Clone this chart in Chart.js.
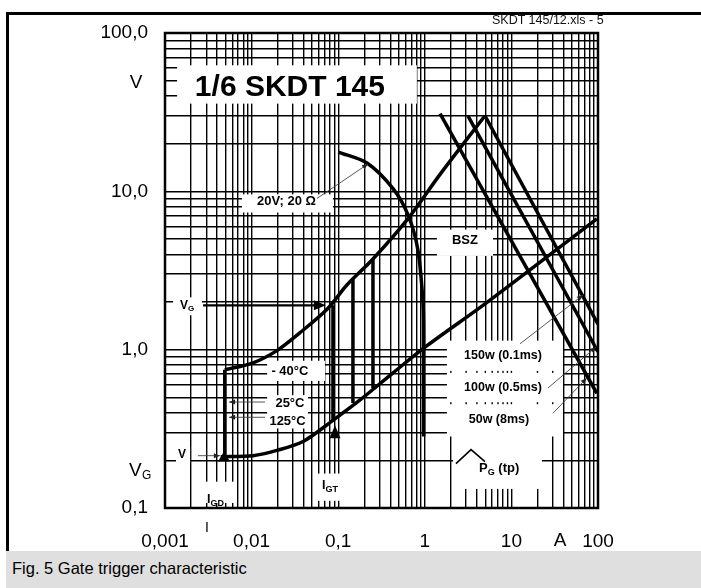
<!DOCTYPE html>
<html>
<head>
<meta charset="utf-8">
<script src="https://cdn.jsdelivr.net/npm/chart.js@4.4.1/dist/chart.umd.min.js"></script>
<style>
  html, body { margin: 0; padding: 0; background: #fff; }
  #wrap { position: relative; width: 701px; height: 588px; overflow: hidden;
          font-family: "Liberation Sans", Arial, Helvetica, sans-serif; }
  #chart { position: absolute; left: 0; top: 0; }
  #topline { position: absolute; left: 7px; top: 12px; width: 694px; height: 3px; background: #000; }
  #leftline { position: absolute; left: 6px; top: 12px; width: 3px; height: 540px; background: #000; }
  #fileref { position: absolute; left: 492px; top: 14px; font-size: 12.5px; line-height: 13px; color: #111; }
  #caption { position: absolute; left: 6px; top: 551px; width: 695px; height: 37px; background: #dfdfdf;
             font-size: 16.5px; line-height: 35px; padding-left: 6px; box-sizing: border-box; color: #000; }
</style>
</head>
<body>
<div id="wrap">
  <canvas id="chart" width="701" height="588"></canvas>
  <div id="topline"></div>
  <div id="leftline"></div>
  <div id="fileref">SKDT 145/12.xls - 5</div>
  <div id="caption">Fig. 5 Gate trigger characteristic</div>
</div>
<script>
// axis decades and their labels
const xDecades = [0.001, 0.01, 0.1, 1, 10, 100];
const xDecadeLabels = ['0,001', '0,01', '0,1', '1', '10', '100'];
const yDecades = [0.1, 1, 10, 100];
const yDecadeLabels = ['0,1', '1,0', '10,0', '100,0'];

// upper limit of the gate characteristic (I in A, V in V)
const upperI = [0.0049, 0.0104, 0.0196, 0.0362, 0.0743, 0.126, 0.252, 0.64, 1.5, 4.95];
const upperV = [0.746, 0.826, 0.986, 1.28, 1.80, 2.56, 3.74, 6.73, 12.8, 30];
// lower limit
const lowerI = [0.0044, 0.0104, 0.0196, 0.0393, 0.0871, 0.179, 0.43, 1.06, 5.23, 97];
const lowerV = [0.211, 0.214, 0.231, 0.263, 0.358, 0.481, 0.714, 1.06, 1.99, 6.7];
// 20V; 20 Ohm load curve
const loadI = [0.1, 0.215, 0.43, 0.64, 0.83, 0.953, 0.97, 0.97];
const loadV = [17.7, 15.1, 10.4, 7.1, 4.3, 2.0, 1.29, 0.283];
// I_GD line
const igdI = [0.0049, 0.0049];
const igdV = [0.746, 0.211];
// I_GT lines for -40 / 25 / 125 degC
const igtI = [0.087, 0.148, 0.252];
const igtTopV = [1.905, 2.79, 3.74];
const igtBottomV = [0.358, 0.46, 0.57];
// peak gate power lines 50w / 100w / 150w
const powerLabels = ['50w (8ms)', '100w (0.5ms)', '150w (0.1ms)'];
const powerStartI = [1.5, 3.15, 4.95];
const powerStartV = [31, 30, 30];
const powerEndI = [97, 100, 100];
const powerEndV = [0.53, 0.97, 1.45];

const FONT = '"Liberation Sans", Arial, Helvetica, sans-serif';

function logGrid(fromExp, toExp) {
  const out = [];
  for (let e = fromExp; e < toExp; e++)
    for (let m = 1; m <= 9; m++) out.push(Number((m * Math.pow(10, e)).toPrecision(6)));
  out.push(Math.pow(10, toExp));
  return out;
}

function pickLabel(v, values, labels) {
  const i = values.findIndex(d => Math.abs(v / d - 1) < 1e-6);
  return i < 0 ? '' : labels[i];
}

function curve(xs, vs, tension) {
  return {
    data: xs.map((x, i) => ({ x, y: vs[i] })),
    showLine: true, borderColor: '#000', borderWidth: 3.5,
    pointRadius: 0, tension: tension, fill: false
  };
}

const datasets = [
  curve(upperI, upperV, 0.3),
  curve(lowerI, lowerV, 0.3),
  curve(loadI, loadV, 0.3),
  curve(igdI, igdV, 0),
  ...igtI.map((x, i) => curve([x, x], [igtTopV[i], igtBottomV[i]], 0)),
  ...powerStartI.map((x, i) => curve([x, powerEndI[i]], [powerStartV[i], powerEndV[i]], 0))
];

// white label boxes [x0, v0, x1, v1] in data units
const boxes = [
  [0.00138, 62.5, 0.81, 35.8],
  [0.00774, 9.57, 0.087, 7.35],
  [1.38, 5.73, 6.13, 3.91],
  [0.00124, 2.14, 0.00267, 1.65],
  [0.0151, 0.851, 0.0704, 0.635],
  [0.0151, 0.516, 0.0448, 0.318],
  [0.00134, 0.245, 0.00195, 0.1906],
  [0.00275, 0.1466, 0.00627, 0.1076],
  [0.0569, 0.165, 0.1135, 0.111],
  [1.80, 1.14, 39.4, 0.283],
  [2.12, 0.292, 22.5, 0.132]
];

// thin leader lines with arrow at the end
const leaders = [
  [[0.0569, 9.02], [0.221, 14.9]],
  [[12.6, 1.09], [67.1, 2.21]],
  [[26.5, 0.573], [95, 1.04]],
  [[30.2, 0.397], [74, 0.66]],
  [[0.0143, 0.467], [0.0055, 0.467]],
  [[0.0143, 0.374], [0.0055, 0.374]],
  [[0.0024, 0.214], [0.0043, 0.214]]
];

function arrowHead(ctx, a, b, len, half) {
  const ang = Math.atan2(b[1] - a[1], b[0] - a[0]);
  const c = Math.cos(ang), s = Math.sin(ang);
  ctx.beginPath();
  ctx.moveTo(b[0], b[1]);
  ctx.lineTo(b[0] - len * c + half * s, b[1] - len * s - half * c);
  ctx.lineTo(b[0] - len * c - half * s, b[1] - len * s + half * c);
  ctx.closePath();
  ctx.fill();
}

function subText(ctx, main, sub, x, y, size, align) {
  ctx.font = 'bold ' + size + 'px ' + FONT;
  const w1 = ctx.measureText(main).width;
  ctx.font = 'bold ' + Math.round(size * 0.68) + 'px ' + FONT;
  const w2 = ctx.measureText(sub).width;
  let x0 = align === 'center' ? x - (w1 + w2) / 2 : x;
  ctx.textAlign = 'left';
  ctx.font = 'bold ' + size + 'px ' + FONT;
  ctx.fillText(main, x0, y);
  ctx.font = 'bold ' + Math.round(size * 0.68) + 'px ' + FONT;
  ctx.fillText(sub, x0 + w1, y + size * 0.3);
  return w1 + w2;
}

const annotations = {
  id: 'annotations',
  beforeDatasetsDraw(chart) {
    const { ctx, scales: { x, y } } = chart;
    ctx.save();
    ctx.fillStyle = '#fff';
    boxes.forEach(b => {
      const x0 = x.getPixelForValue(b[0]), y0 = y.getPixelForValue(b[1]);
      const x1 = x.getPixelForValue(b[2]), y1 = y.getPixelForValue(b[3]);
      ctx.fillRect(x0, y0, x1 - x0, y1 - y0);
    });
    // little grid stubs left between the power labels
    ctx.fillStyle = '#000';
    logGrid(0, 2).filter(v => v >= 2 && v <= 30).forEach(v => {
      [0.724, 0.459].forEach(row => {
        ctx.fillRect(x.getPixelForValue(v) - 0.7, y.getPixelForValue(row) - 1, 1.4, 2);
      });
    });
    ctx.restore();
  },
  afterDatasetsDraw(chart) {
    const { ctx, chartArea, scales: { x, y } } = chart;
    const p = (a, v) => [x.getPixelForValue(a), y.getPixelForValue(v)];
    ctx.save();

    // leader lines
    ctx.strokeStyle = '#444';
    ctx.fillStyle = '#222';
    ctx.lineWidth = 0.9;
    leaders.forEach(l => {
      const a = p(l[0][0], l[0][1]), b = p(l[1][0], l[1][1]);
      ctx.beginPath(); ctx.moveTo(a[0], a[1]); ctx.lineTo(b[0], b[1]); ctx.stroke();
      arrowHead(ctx, a, b, 6, 2.5);
    });

    // V_G arrow
    ctx.fillStyle = '#000';
    ctx.strokeStyle = '#000';
    ctx.lineWidth = 2.4;
    const g0 = p(0.00275, 1.905), g1 = p(0.072, 1.905);
    ctx.beginPath(); ctx.moveTo(g0[0], g0[1]); ctx.lineTo(g1[0] - 8, g1[1]); ctx.stroke();
    arrowHead(ctx, g0, g1, 12, 5);

    // I_GD and I_GT up arrows
    const up1 = p(0.0048, 0.2275);
    arrowHead(ctx, [up1[0], up1[1] + 20], up1, 10, 6);
    const up2 = p(0.0918, 0.333);
    arrowHead(ctx, [up2[0], up2[1] + 20], up2, 13, 5.5);

    // P_G pulse symbol
    ctx.lineWidth = 1.6;
    const q = [p(2.29, 0.1906), p(3.42, 0.234), p(4.95, 0.196)];
    ctx.beginPath(); ctx.moveTo(q[0][0], q[0][1]); ctx.lineTo(q[1][0], q[1][1]); ctx.lineTo(q[2][0], q[2][1]); ctx.stroke();

    // labels
    ctx.fillStyle = '#000';
    ctx.textBaseline = 'middle';
    ctx.textAlign = 'center';
    let t = p(0.0277, 45.3);
    ctx.font = 'bold 30px ' + FONT;
    ctx.fillText('1/6 SKDT 145', t[0], t[1]);
    ctx.font = 'bold 13px ' + FONT;
    t = p(0.0253, 8.6); ctx.fillText('20V; 20 \u03A9', t[0], t[1]);
    t = p(2.91, 4.9); ctx.fillText('BSZ', t[0], t[1]);
    t = p(0.0277, 0.724); ctx.fillText('- 40\u00B0C', t[0], t[1]);
    t = p(0.0277, 0.459); ctx.fillText('25\u00B0C', t[0], t[1]);
    t = p(0.026, 0.353); ctx.fillText('125\u00B0C', t[0], t[1]);
    ctx.font = 'bold 12.5px ' + FONT;
    t = p(8.0, 0.916); ctx.fillText(powerLabels[2], t[0], t[1]);
    t = p(8.0, 0.573); ctx.fillText(powerLabels[1], t[0], t[1]);
    t = p(7.19, 0.364); ctx.fillText(powerLabels[0], t[0], t[1]);
    ctx.font = 'bold 12px ' + FONT;
    t = p(0.00157, 0.218); ctx.fillText('V', t[0], t[1]);

    t = p(0.0018, 1.905); subText(ctx, 'V', 'G', t[0], t[1], 12, 'center');
    t = p(0.00305, 0.1125); subText(ctx, 'I', 'GD', t[0], t[1], 12.5, 'left');
    t = p(0.065, 0.138); subText(ctx, 'I', 'GT', t[0], t[1], 12.5, 'left');
    t = p(4.23, 0.177);
    const w = subText(ctx, 'P', 'G', t[0], t[1], 13, 'left');
    ctx.font = 'bold 13px ' + FONT; ctx.textAlign = 'left';
    ctx.fillText(' (tp)', t[0] + w, t[1]);

    // axis unit labels
    ctx.font = '19px ' + FONT;
    ctx.textAlign = 'center';
    t = p(0.001, 48.7); ctx.fillText('V', 136, t[1]);
    t = p(36.4, 0.1); ctx.fillText('A', t[0], 541);
    ctx.font = '14px ' + FONT;
    t = p(0.00305, 0.1); ctx.fillText('I', t[0], 528);
    ctx.font = '19px ' + FONT;
    ctx.textAlign = 'left';
    t = p(0.001, 0.172);
    ctx.fillText('V', 129, t[1]);
    ctx.font = '12px ' + FONT;
    ctx.fillText('G', 142, t[1] + 5);

    // plot frame
    ctx.lineWidth = 2.5;
    ctx.strokeRect(chartArea.left, chartArea.top, chartArea.right - chartArea.left, chartArea.bottom - chartArea.top);
    ctx.restore();
  }
};

new Chart(document.getElementById('chart'), {
  type: 'scatter',
  data: { datasets },
  options: {
    responsive: false,
    animation: false,
    layout: { autoPadding: false, padding: { left: 0, right: 103, top: 33, bottom: 0 } },
    plugins: { legend: { display: false }, tooltip: { enabled: false } },
    scales: {
      x: {
        type: 'logarithmic', min: 0.001, max: 100, position: 'bottom',
        afterBuildTicks: s => { s.ticks = logGrid(-3, 2).map(v => ({ value: v })); },
        afterFit: s => { s.height = 80; },
        grid: { color: '#000', lineWidth: 1.4, drawTicks: false },
        border: { display: false },
        ticks: {
          autoSkip: false, maxRotation: 0, padding: 22, color: '#000',
          font: { family: FONT, size: 19 },
          callback: v => pickLabel(v, xDecades, xDecadeLabels)
        }
      },
      y: {
        type: 'logarithmic', min: 0.1, max: 100, position: 'left',
        afterBuildTicks: s => { s.ticks = logGrid(-1, 2).map(v => ({ value: v })); },
        afterFit: s => { s.width = 165; },
        grid: { color: '#000', lineWidth: 1.4, drawTicks: false },
        border: { display: false },
        ticks: {
          autoSkip: false, padding: 17, color: '#000',
          font: { family: FONT, size: 19 },
          callback: v => pickLabel(v, yDecades, yDecadeLabels)
        }
      }
    }
  },
  plugins: [annotations]
});
</script>
</body>
</html>
